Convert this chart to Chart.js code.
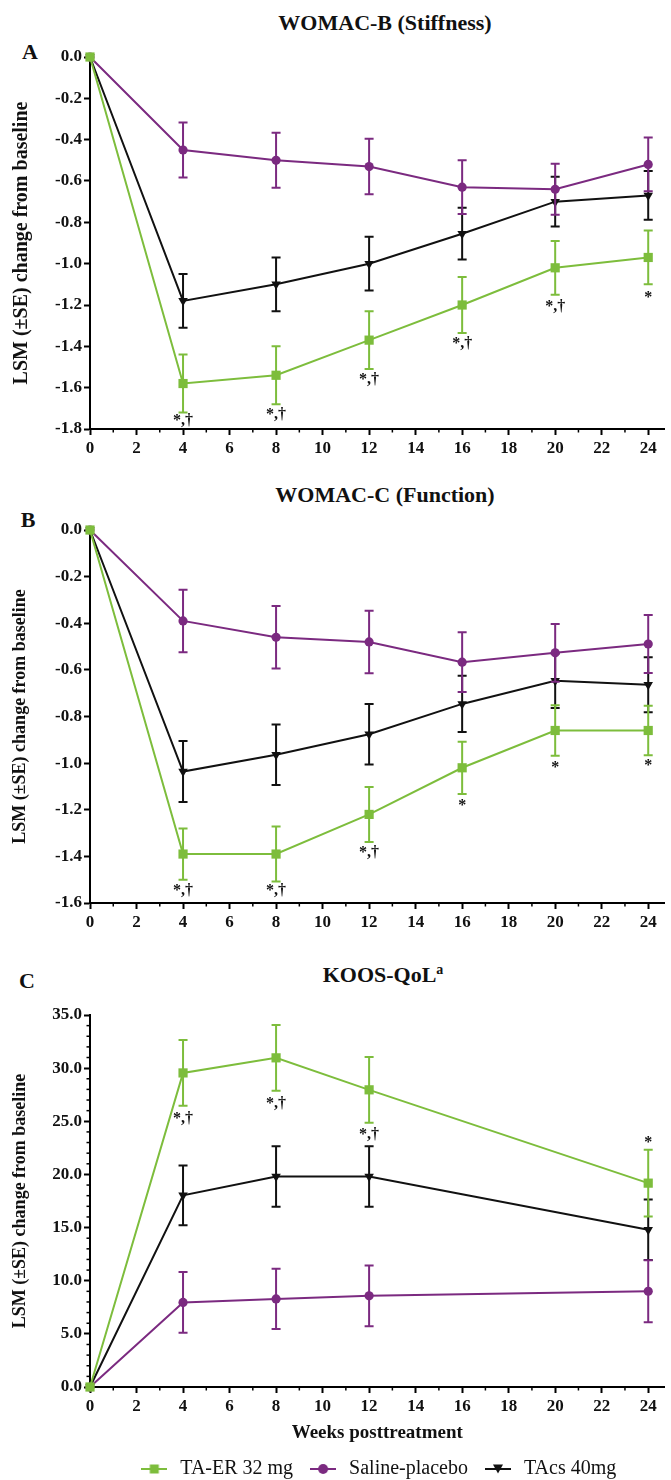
<!DOCTYPE html>
<html>
<head>
<meta charset="utf-8">
<script src="https://cdn.jsdelivr.net/npm/chart.js@4.4.1/dist/chart.umd.min.js"></script>
<style>
  body { margin: 0; background: #fff; width: 671px; height: 1480px; position: relative; overflow: hidden; font-family: "Liberation Serif", "Times New Roman", serif; }
  canvas { position: absolute; left: 0; }
  .title { position: absolute; font-weight: bold; font-size: 22px; transform: translate(-50%, -50%); white-space: nowrap; color: #111; }
  .title sup { font-size: 14px; }
  .letter { position: absolute; font-weight: bold; font-size: 22px; transform: translate(-50%, -50%); color: #111; }
</style>
</head>
<body>
<div class="title" style="left:385px;top:23px">WOMAC-B (Stiffness)</div>
<div class="letter" style="left:30px;top:52px">A</div>
<div class="title" style="left:385px;top:495px">WOMAC-C (Function)</div>
<div class="letter" style="left:28px;top:520px">B</div>
<div class="title" style="left:383px;top:975px">KOOS-QoL<sup>a</sup></div>
<div class="letter" style="left:27px;top:981px">C</div>

<canvas id="chartA" width="671" height="470" style="top:0;width:671px;height:470px"></canvas>
<canvas id="chartB" width="671" height="470" style="top:470px;width:671px;height:470px"></canvas>
<canvas id="chartC" width="671" height="549" style="top:940px;width:671px;height:549px"></canvas>

<script>
// weeks posttreatment
const weeksAB = [0, 4, 8, 12, 16, 20, 24];
const weeksC = [0, 4, 8, 12, 24];
const xTicks = [0, 2, 4, 6, 8, 10, 12, 14, 16, 18, 20, 22, 24];
const xMinorTicks = [1, 3, 5, 7, 9, 11, 13, 15, 17, 19, 21, 23];

const seriesNames = ['TA-ER 32 mg', 'Saline-placebo', 'TAcs 40mg'];

// Panel A - WOMAC-B (Stiffness)
const stiffTAER = [0, -1.58, -1.54, -1.37, -1.20, -1.02, -0.97];
const stiffTAERse = [0, 0.14, 0.14, 0.14, 0.135, 0.13, 0.13];
const stiffPlacebo = [0, -0.45, -0.50, -0.53, -0.63, -0.64, -0.52];
const stiffPlaceboSe = [0, 0.133, 0.133, 0.134, 0.13, 0.123, 0.13];
const stiffTAcs = [0, -1.18, -1.10, -1.00, -0.855, -0.70, -0.67];
const stiffTAcsSe = [0, 0.13, 0.13, 0.13, 0.125, 0.12, 0.118];
const stiffYTicks = [0, -0.2, -0.4, -0.6, -0.8, -1.0, -1.2, -1.4, -1.6, -1.8];
const stiffSigWeeks = [4, 8, 12, 16, 20, 24];
const stiffSigY = [-1.76, -1.73, -1.56, -1.39, -1.21, -1.15];
const stiffSigText = ['*,†', '*,†', '*,†', '*,†', '*,†', '*'];

// Panel B - WOMAC-C (Function)
const funcTAER = [0, -1.39, -1.39, -1.22, -1.02, -0.86, -0.86];
const funcTAERse = [0, 0.11, 0.118, 0.118, 0.112, 0.108, 0.106];
const funcPlacebo = [0, -0.39, -0.46, -0.48, -0.567, -0.527, -0.489];
const funcPlaceboSe = [0, 0.134, 0.134, 0.134, 0.128, 0.124, 0.124];
const funcTAcs = [0, -1.036, -0.964, -0.876, -0.746, -0.647, -0.664];
const funcTAcsSe = [0, 0.131, 0.13, 0.13, 0.121, 0.117, 0.118];
const funcYTicks = [0, -0.2, -0.4, -0.6, -0.8, -1.0, -1.2, -1.4, -1.6];
const funcSigWeeks = [4, 8, 12, 16, 20, 24];
const funcSigY = [-1.546, -1.546, -1.383, -1.169, -1.007, -0.997];
const funcSigText = ['*,†', '*,†', '*,†', '*', '*', '*'];

// Panel C - KOOS-QoL
const qolTAER = [0, 29.55, 30.97, 27.96, 19.18];
const qolTAERse = [0, 3.09, 3.09, 3.09, 3.15];
const qolPlacebo = [0, 7.96, 8.29, 8.58, 9.01];
const qolPlaceboSe = [0, 2.86, 2.84, 2.86, 2.92];
const qolTAcs = [0, 18.03, 19.81, 19.81, 14.79];
const qolTAcsSe = [0, 2.82, 2.84, 2.84, 2.84];
const qolYTicks = [0, 5, 10, 15, 20, 25, 30, 35];
const qolYMinorTicks = [1,2,3,4,6,7,8,9,11,12,13,14,16,17,18,19,21,22,23,24,26,27,28,29,31,32,33,34];
const qolSigWeeks = [4, 8, 12, 24];
const qolSigY = [25.19, 26.68, 23.7, 23.21];
const qolSigText = ['*,†', '*,†', '*,†', '*'];

const FONT = '"Liberation Serif", "Times New Roman", serif';
const GREEN = '#7dbd3c';
const PURPLE = '#7b2a80';
const BLACK = '#111111';

const styles = [
  { color: GREEN, pointStyle: 'rect', radius: 6.5, rotation: 0 },
  { color: PURPLE, pointStyle: 'circle', radius: 4.6, rotation: 0 },
  { color: BLACK, pointStyle: 'triangle', radius: 5.5, rotation: 180 }
];

// error bars (±SE) drawn right after each dataset
const errorBarPlugin = {
  id: 'errorBars',
  afterDatasetDraw(chart, args) {
    const ds = chart.data.datasets[args.index];
    if (!ds.se) return;
    const yScale = chart.scales.y;
    const ctx = chart.ctx;
    ctx.save();
    ctx.strokeStyle = ds.borderColor;
    ctx.lineWidth = 2;
    args.meta.data.forEach((pt, i) => {
      const se = ds.se[i];
      if (!se) return;
      const v = ds.data[i].y;
      const top = yScale.getPixelForValue(v + se);
      const bot = yScale.getPixelForValue(v - se);
      ctx.beginPath();
      ctx.moveTo(pt.x, top); ctx.lineTo(pt.x, bot);
      ctx.moveTo(pt.x - 4.5, top); ctx.lineTo(pt.x + 4.5, top);
      ctx.moveTo(pt.x - 4.5, bot); ctx.lineTo(pt.x + 4.5, bot);
      ctx.stroke();
    });
    ctx.restore();
  }
};

// small unlabeled ticks between the labeled ones
const minorTicksPlugin = {
  id: 'minorTicks',
  afterDraw(chart, args, opts) {
    const ctx = chart.ctx;
    const xs = chart.scales.x, ys = chart.scales.y;
    ctx.save();
    ctx.strokeStyle = '#000';
    ctx.lineWidth = 1.5;
    (opts.x || []).forEach(v => {
      const px = xs.getPixelForValue(v);
      ctx.beginPath(); ctx.moveTo(px, xs.top); ctx.lineTo(px, xs.top + 3.5); ctx.stroke();
    });
    (opts.y || []).forEach(v => {
      const py = ys.getPixelForValue(v);
      ctx.beginPath(); ctx.moveTo(ys.right, py); ctx.lineTo(ys.right - 3.5, py); ctx.stroke();
    });
    ctx.restore();
  }
};

// significance markers (*, †)
const sigPlugin = {
  id: 'sigMarks',
  afterDatasetsDraw(chart, args, opts) {
    if (!opts.weeks) return;
    const ctx = chart.ctx;
    ctx.save();
    ctx.fillStyle = '#111';
    ctx.font = 'bold 16px ' + FONT;
    ctx.textAlign = 'center';
    ctx.textBaseline = 'middle';
    opts.weeks.forEach((w, i) => {
      const px = chart.scales.x.getPixelForValue(w);
      let py = chart.scales.y.getPixelForValue(opts.y[i]);
      if (opts.text[i] === '*') py += 3;
      ctx.fillText(opts.text[i], px, py);
    });
    ctx.restore();
  }
};

function legendIcon(st) {
  const c = document.createElement('canvas');
  c.width = 26; c.height = 14;
  const g = c.getContext('2d');
  g.strokeStyle = st.color; g.fillStyle = st.color; g.lineWidth = 2;
  g.beginPath(); g.moveTo(0, 7); g.lineTo(26, 7); g.stroke();
  g.beginPath();
  if (st.pointStyle === 'rect') g.rect(8.5, 2.5, 9, 9);
  else if (st.pointStyle === 'circle') g.arc(13, 7, 5, 0, Math.PI * 2);
  else { g.moveTo(8, 2.5); g.lineTo(18, 2.5); g.lineTo(13, 11.5); g.closePath(); }
  g.fill();
  return c;
}

function makeDatasets(weeks, values, ses) {
  return values.map((vals, k) => ({
    label: seriesNames[k],
    data: vals.map((v, i) => ({ x: weeks[i], y: v })),
    se: ses[k],
    borderColor: styles[k].color,
    backgroundColor: styles[k].color,
    borderWidth: 2,
    pointStyle: styles[k].pointStyle,
    pointRadius: styles[k].radius,
    pointRotation: styles[k].rotation,
    pointBorderWidth: 0,
    tension: 0,
    clip: false
  }));
}

function makeChart(id, cfg) {
  return new Chart(document.getElementById(id), {
    type: 'line',
    data: { datasets: makeDatasets(cfg.weeks, cfg.values, cfg.ses) },
    plugins: [errorBarPlugin, minorTicksPlugin, sigPlugin],
    options: {
      responsive: false,
      animation: false,
      layout: { padding: cfg.padding },
      scales: {
        x: {
          type: 'linear',
          min: 0,
          max: 24.7,
          afterBuildTicks: s => { s.ticks = xTicks.map(v => ({ value: v })); },
          afterFit: s => { s.height = cfg.xHeight; },
          border: { display: true, color: '#000', width: 2 },
          grid: { drawOnChartArea: false, drawTicks: true, tickLength: 6, tickWidth: 2, tickColor: '#000' },
          ticks: { color: '#111', padding: 3, font: { family: FONT, size: 17, weight: 'bold' }, maxRotation: 0 },
          title: cfg.xTitle ? {
            display: true, text: cfg.xTitle, color: '#111',
            font: { family: FONT, size: 19, weight: 'bold' }, padding: { top: 0, bottom: 1 }
          } : { display: false }
        },
        y: {
          type: 'linear',
          min: cfg.yMin,
          max: cfg.yMax,
          afterBuildTicks: s => { s.ticks = cfg.yTicks.map(v => ({ value: v })); },
          afterFit: s => { s.width = 90; },
          border: { display: true, color: '#000', width: 2 },
          grid: { drawOnChartArea: false, drawTicks: true, tickLength: 6, tickWidth: 2, tickColor: '#000' },
          ticks: { color: '#111', padding: 2, font: { family: FONT, size: 17, weight: 'bold' }, callback: v => Number(v).toFixed(1) },
          title: {
            display: true, text: 'LSM (±SE) change from baseline', color: '#111',
            font: { family: FONT, size: cfg.yTitleSize, weight: 'bold' }, padding: { top: 10, bottom: 0 }
          }
        }
      },
      plugins: {
        title: { display: false },
        tooltip: { enabled: false },
        legend: cfg.legend ? {
          display: true,
          position: 'bottom',
          fullSize: false,
          labels: {
            usePointStyle: true,
            pointStyleWidth: 32,
            padding: 14,
            color: '#111',
            font: { family: FONT, size: 20 },
            generateLabels: chart => chart.data.datasets.map((ds, i) => ({
              text: ds.label,
              pointStyle: legendIcon(styles[i]),
              fillStyle: ds.borderColor,
              strokeStyle: ds.borderColor,
              lineWidth: 0,
              hidden: false,
              fontColor: '#111',
              datasetIndex: i
            }))
          }
        } : { display: false },
        minorTicks: { x: xMinorTicks, y: cfg.yMinor || [] },
        sigMarks: { weeks: cfg.sigWeeks, y: cfg.sigY, text: cfg.sigText }
      }
    }
  });
}

makeChart('chartA', {
  weeks: weeksAB,
  values: [stiffTAER, stiffPlacebo, stiffTAcs],
  ses: [stiffTAERse, stiffPlaceboSe, stiffTAcsSe],
  yMin: -1.8, yMax: 0, yTicks: stiffYTicks, yTitleSize: 20,
  sigWeeks: stiffSigWeeks, sigY: stiffSigY, sigText: stiffSigText,
  padding: { top: 57, right: 0, bottom: 5, left: 0 },
  xHeight: 36
});

makeChart('chartB', {
  weeks: weeksAB,
  values: [funcTAER, funcPlacebo, funcTAcs],
  ses: [funcTAERse, funcPlaceboSe, funcTAcsSe],
  yMin: -1.6, yMax: 0, yTicks: funcYTicks, yTitleSize: 18,
  sigWeeks: funcSigWeeks, sigY: funcSigY, sigText: funcSigText,
  padding: { top: 60, right: 0, bottom: 1, left: 0 },
  xHeight: 36
});

makeChart('chartC', {
  weeks: weeksC,
  values: [qolTAER, qolPlacebo, qolTAcs],
  ses: [qolTAERse, qolPlaceboSe, qolTAcsSe],
  yMin: 0, yMax: 35, yTicks: qolYTicks, yMinor: qolYMinorTicks, yTitleSize: 18,
  sigWeeks: qolSigWeeks, sigY: qolSigY, sigText: qolSigText,
  padding: { top: 75, right: 0, bottom: 0, left: 0 },
  xHeight: 58,
  xTitle: 'Weeks posttreatment',
  legend: true
});
</script>
</body>
</html>
